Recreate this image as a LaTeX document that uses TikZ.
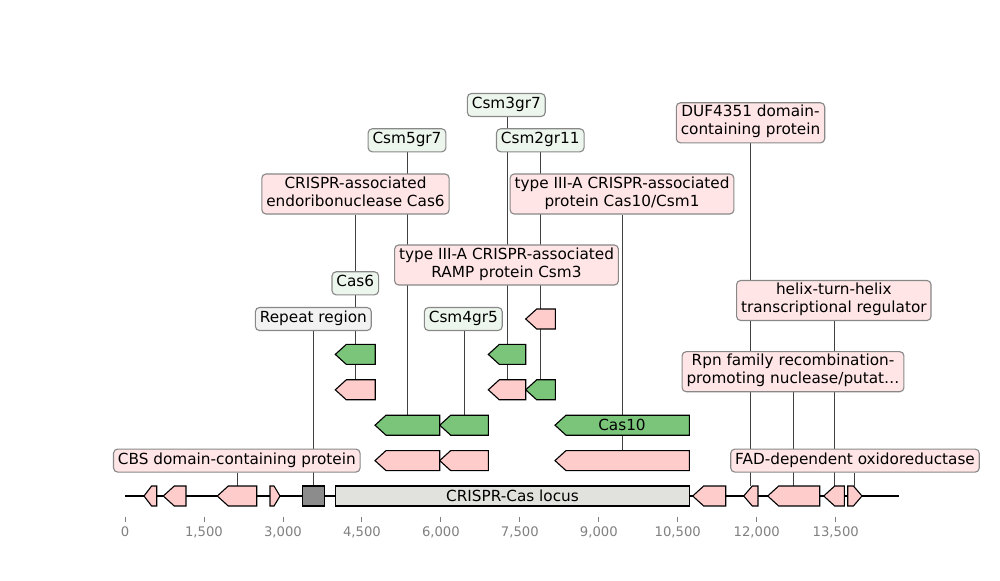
\documentclass[tikz,border=0pt]{standalone}
\usepackage{fontspec}
\setmainfont{DejaVu Sans}
\definecolor{genepink}{RGB}{255,204,204}
\definecolor{genegreen}{RGB}{122,197,122}
\definecolor{boxpink}{RGB}{255,229,229}
\definecolor{boxgreen}{RGB}{237,246,237}
\definecolor{boxgrey}{RGB}{242,242,242}
\definecolor{boxedge}{RGB}{136,136,136}
\definecolor{repgrey}{RGB}{140,140,140}
\definecolor{locusgrey}{RGB}{225,225,221}
\definecolor{tickgrey}{RGB}{128,128,128}
\pgfdeclarelayer{bg}
\pgfsetlayers{bg,main}

\newcommand{\geneL}[5]{%
  \pgfmathsetmacro{\hl}{min(11,0.6*(#3-#2))}
  \draw[gene,fill=#5] (#2,#4) -- (#2+\hl,#4-10) -- (#3,#4-10) -- (#3,#4+10) -- (#2+\hl,#4+10) -- cycle;
  \coordinate (#1) at ({(#2+#3)/2},#4-10);}
\newcommand{\geneR}[5]{%
  \pgfmathsetmacro{\hl}{min(11,0.6*(#3-#2))}
  \draw[gene,fill=#5] (#3,#4) -- (#3-\hl,#4-10) -- (#2,#4-10) -- (#2,#4+10) -- (#3-\hl,#4+10) -- cycle;
  \coordinate (#1) at ({(#2+#3)/2},#4-10);}

\begin{document}
\begin{tikzpicture}[x=0.72pt,y=-0.72pt,
  gene/.style={draw=black, line width=0.8pt},
  lab/.style={draw=boxedge, line width=0.8pt, rounded corners=3pt, inner xsep=3.2pt, inner ysep=1.8pt,
    align=center, font=\fontsize{11}{13}\selectfont, execute at begin node=\strut, execute at end node=\strut},
  pinklab/.style={lab, fill=boxpink},
  greenlab/.style={lab, fill=boxgreen},
  lead/.style={draw=black!75, line width=0.6pt},
  tick/.style={draw=tickgrey, line width=0.6pt},
  ticklab/.style={text=tickgrey, font=\fontsize{9.5}{11}\selectfont}]
\useasboundingbox (0,0) rectangle (1000,580);

\draw [line width=1.5pt] (125,496) -- (899,496);
\geneL{f1}{144}{156.7}{496}{genepink}
\geneL{f2}{163.3}{186}{496}{genepink}
\geneL{f3}{217.3}{256.7}{496}{genepink}
\geneR{f4}{270}{280}{496}{genepink}
\draw [gene, fill=repgrey] (302.3,486) rectangle (324.7,506);
\coordinate (rep) at (313.5,486);
\draw [gene, fill=locusgrey] (335.3,486) rectangle (689.7,506);
\node [font=\fontsize{11}{13}\selectfont] (locus) at (512.5,496) {CRISPR-Cas locus};
\geneL{f7}{692.7}{725.7}{496}{genepink}
\geneL{f8}{743.7}{758}{496}{genepink}
\geneL{f9}{767.7}{819.7}{496}{genepink}
\geneL{f10}{823.7}{844.3}{496}{genepink}
\geneR{f11}{847.7}{862}{496}{genepink}

\geneL{p1}{375}{439.7}{460.6}{genepink}
\geneL{p2}{439.7}{488.3}{460.6}{genepink}
\geneL{p3}{555}{689.3}{460.6}{genepink}
\geneL{g1}{375}{439.7}{425.2}{genegreen}
\geneL{g2}{439.7}{488.3}{425.2}{genegreen}
\geneL{g3}{555}{689.3}{425.2}{genegreen}
\node [font=\fontsize{11}{13}\selectfont] (cas10) at (622,425.2) {Cas10};
\geneL{p4}{335.3}{375.3}{389.8}{genepink}
\geneL{p5}{488.3}{525.7}{389.8}{genepink}
\geneL{g4}{525.7}{555.3}{389.8}{genegreen}
\geneL{g5}{335.3}{375.3}{354.4}{genegreen}
\geneL{g6}{488.3}{525.7}{354.4}{genegreen}
\geneL{p6}{525.7}{555.3}{319}{genepink}

\foreach \i/\t in {0/0,1/{1,500},2/{3,000},3/{4,500},4/{6,000},5/{7,500},6/{9,000},7/{10,500},8/{12,000},9/{13,500}} {
  \draw [tick] (125+78.97*\i,516.7) -- ++(0,5);
  \node [ticklab] (t\i) at (125+78.97*\i,532) {\t};
}

\node [pinklab] (cbs) at (236.8,460.6) {CBS domain-containing protein};
\node [lab, fill=boxgrey] (repeat) at (313.3,319) {Repeat region};
\node [pinklab] (fad) at (855,460.6) {FAD-dependent oxidoreductase};
\node [pinklab] (rpn) at (793,371.7) {Rpn family recombination-\\promoting nuclease/putat…};
\node [pinklab] (hth) at (833.8,300.5) {helix-turn-helix\\transcriptional regulator};
\node [pinklab] (duf) at (750.5,122.8) {DUF4351 domain-\\containing protein};
\node [pinklab] (csm1) at (622,194) {type III-A CRISPR-associated\\protein Cas10/Csm1};
\node [pinklab] (cas6e) at (355.5,194) {CRISPR-associated\\endoribonuclease Cas6};
\node [pinklab] (csm3) at (506.5,265) {type III-A CRISPR-associated\\RAMP protein Csm3};
\node [greenlab] (csm3gr) at (506.3,105) {Csm3gr7};
\node [greenlab] (csm5gr) at (407,140.3) {Csm5gr7};
\node [greenlab] (csm2gr) at (540.3,140.3) {Csm2gr11};
\node [greenlab] (csm4gr) at (463.3,319) {Csm4gr5};
\node [greenlab] (cas6) at (355.3,283.3) {Cas6};

\begin{pgfonlayer}{bg}
\foreach \f/\l in {f3/cbs,rep/repeat,f8/duf,f9/rpn,f10/hth,f11/fad,p3/csm1,g1/csm5gr,g2/csm4gr,p4/cas6e,p5/csm3,g4/csm2gr,g5/cas6,g6/csm3gr}
  \draw [lead] (\f) -- (\f |- \l.south);
\end{pgfonlayer}

\end{tikzpicture}
\end{document}
